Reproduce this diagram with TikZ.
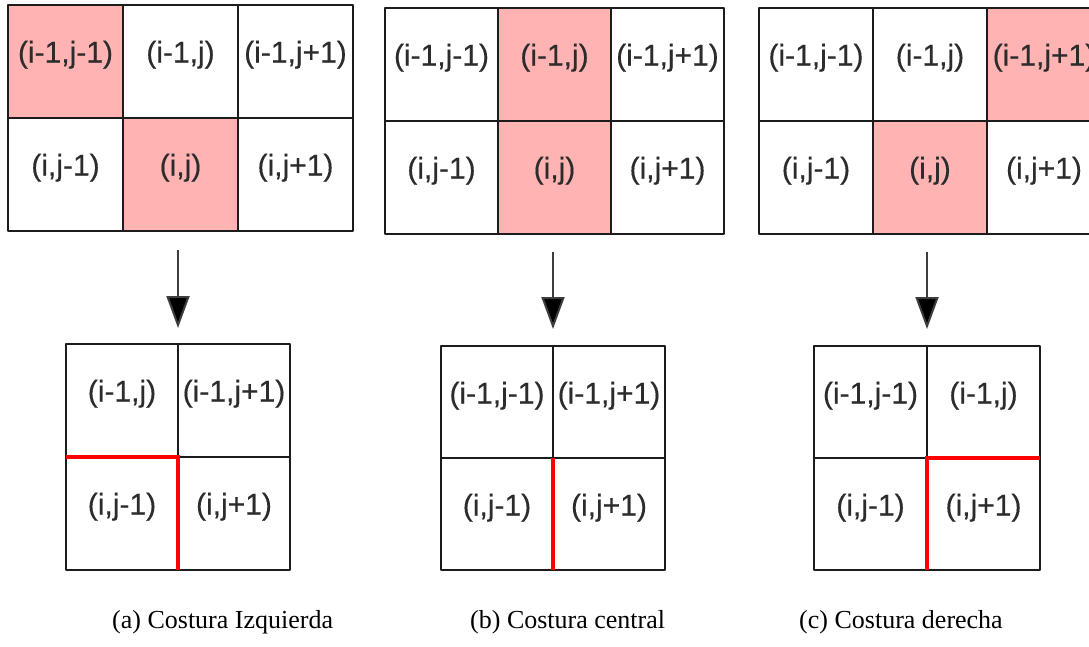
\documentclass[tikz,border=0pt]{standalone}
\usepackage{fontspec}
\setmainfont{Liberation Serif}
\setsansfont{Liberation Sans}
\newfontfamily\cellfont{Liberation Sans}[FakeBold=0.35]
\usetikzlibrary{arrows.meta}
\definecolor{seamfill}{HTML}{FFB3B3}
\definecolor{gridline}{HTML}{1C1C1C}
\definecolor{labelgray}{HTML}{2C2C2C}
\definecolor{seamred}{HTML}{FF0000}

\pgfdeclarelayer{cellfill}
\pgfsetlayers{cellfill,main}

% one cell of a grid: name, x, y (top left), width, height, fill, label
\newcommand\mkcell[7]{%
  \node[cell={#4}{#5}, anchor=north west] (#1) at (#2,#3) {};
  \begin{pgfonlayer}{cellfill}
    \fill[#6] (#1.north west) rectangle (#1.south east);
  \end{pgfonlayer}
  \node[celltext] at ([yshift=-57.5pt]#1.north) {#7};}

\begin{document}
\begin{tikzpicture}[x=1pt,y=-1pt,
  cell/.style 2 args={draw=gridline, line width=2pt, line join=round,
    minimum width=#1, minimum height=#2, inner sep=0pt, outer sep=0pt},
  celltext/.style={anchor=base, inner sep=0pt, text=labelgray,
    font=\cellfont\fontsize{30}{36}\selectfont},
  seam/.style={draw=seamred, line width=4pt, line join=miter},
  down/.style={draw=gridline!85, line width=2pt,
    -{Triangle[length=32pt,width=23pt,fill=black]}},
  caption/.style={anchor=base west, inner sep=0pt,
    font=\rmfamily\fontsize{26}{31}\selectfont}]

\useasboundingbox (0,0) rectangle (1089,646);
\clip (0,0) rectangle (1089,646);

% ---------- (a) left seam ----------
\mkcell{a11}{8}{5}{115}{113}{seamfill}{(i-1,j-1)}
\mkcell{a12}{123}{5}{115}{113}{white}{(i-1,j)}
\mkcell{a13}{238}{5}{115}{113}{white}{(i-1,j+1)}
\mkcell{a21}{8}{118}{115}{113}{white}{(i,j-1)}
\mkcell{a22}{123}{118}{115}{113}{seamfill}{(i,j)}
\mkcell{a23}{238}{118}{115}{113}{white}{(i,j+1)}

\mkcell{ra11}{66}{344}{112}{113}{white}{(i-1,j)}
\mkcell{ra12}{178}{344}{112}{113}{white}{(i-1,j+1)}
\mkcell{ra21}{66}{457}{112}{113}{white}{(i,j-1)}
\mkcell{ra22}{178}{457}{112}{113}{white}{(i,j+1)}

\coordinate (sa) at ([yshift=-19pt]a22.south west -| ra11.north east);
\coordinate (ea) at ([yshift=16pt]ra11.north east);
\draw[down] (sa) -- (ea);
\draw[seam] (ra21.north west) -- (ra21.north east) -- (ra21.south east);

% ---------- (b) central seam ----------
\mkcell{b11}{385}{8}{113}{113}{white}{(i-1,j-1)}
\mkcell{b12}{498}{8}{113}{113}{seamfill}{(i-1,j)}
\mkcell{b13}{611}{8}{113}{113}{white}{(i-1,j+1)}
\mkcell{b21}{385}{121}{113}{113}{white}{(i,j-1)}
\mkcell{b22}{498}{121}{113}{113}{seamfill}{(i,j)}
\mkcell{b23}{611}{121}{113}{113}{white}{(i,j+1)}

\mkcell{rb11}{441}{346}{112}{112}{white}{(i-1,j-1)}
\mkcell{rb12}{553}{346}{112}{112}{white}{(i-1,j+1)}
\mkcell{rb21}{441}{458}{112}{112}{white}{(i,j-1)}
\mkcell{rb22}{553}{458}{112}{112}{white}{(i,j+1)}

\coordinate (sb) at ([yshift=-18pt]b22.south west -| rb11.north east);
\coordinate (eb) at ([yshift=17pt]rb11.north east);
\draw[down] (sb) -- (eb);
\draw[seam] (rb21.north east) -- (rb21.south east);

% ---------- (c) right seam ----------
\mkcell{c11}{759}{8}{114}{113}{white}{(i-1,j-1)}
\mkcell{c12}{873}{8}{114}{113}{white}{(i-1,j)}
\mkcell{c13}{987}{8}{114}{113}{seamfill}{(i-1,j+1)}
\mkcell{c21}{759}{121}{114}{113}{white}{(i,j-1)}
\mkcell{c22}{873}{121}{114}{113}{seamfill}{(i,j)}
\mkcell{c23}{987}{121}{114}{113}{white}{(i,j+1)}

\mkcell{rc11}{814}{346}{113}{112}{white}{(i-1,j-1)}
\mkcell{rc12}{927}{346}{113}{112}{white}{(i-1,j)}
\mkcell{rc21}{814}{458}{113}{112}{white}{(i,j-1)}
\mkcell{rc22}{927}{458}{113}{112}{white}{(i,j+1)}

\coordinate (sc) at ([yshift=-18pt]c22.south west -| rc11.north east);
\coordinate (ec) at ([yshift=17pt]rc11.north east);
\draw[down] (sc) -- (ec);
\draw[seam] (rc22.north east) -- (rc22.north west) -- (rc22.south west);

% ---------- captions ----------
\node[caption] (capa) at (112,628) {(a) Costura Izquierda};
\node[caption] (capb) at (470,628) {(b) Costura central};
\node[caption] (capc) at (799,628) {(c) Costura derecha};
\end{tikzpicture}
\end{document}
